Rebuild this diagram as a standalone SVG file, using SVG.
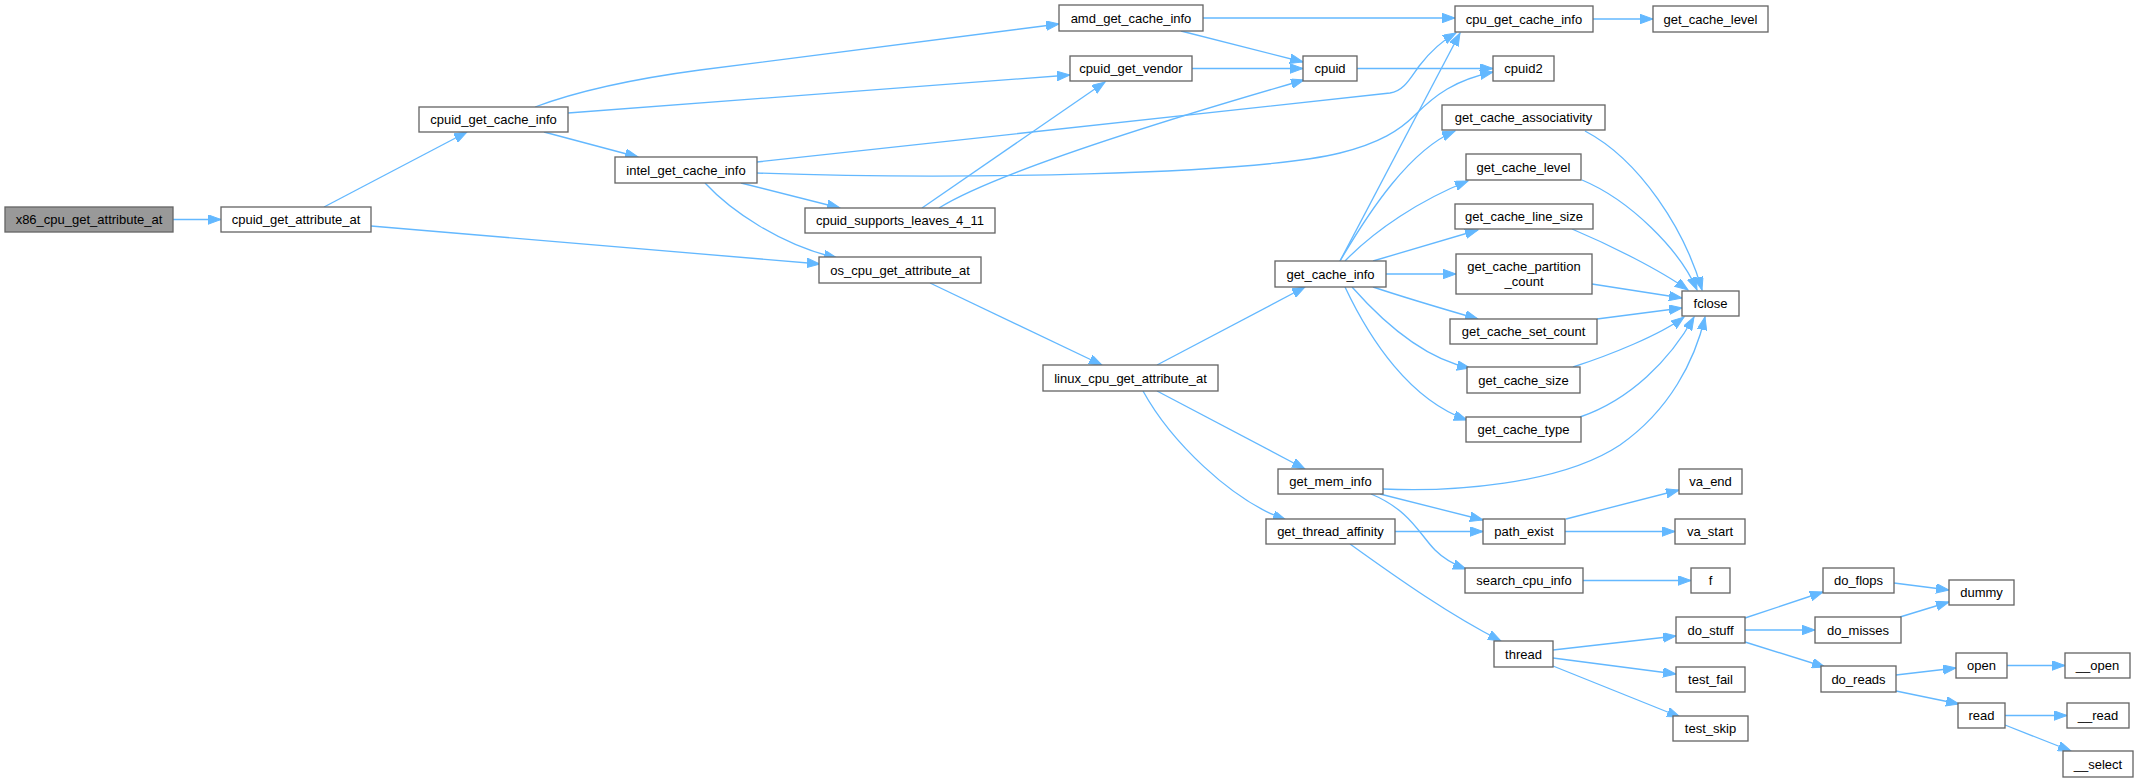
<svg xmlns="http://www.w3.org/2000/svg" width="2139" height="783" viewBox="0 0 2139 783">
<style>
.n rect{fill:#ffffff;stroke:#666666;stroke-width:1.33}
.root rect{fill:#999999}
.n text{font-family:"Liberation Sans",Helvetica,Arial,sans-serif;font-size:13px;fill:#000000;text-anchor:middle}
.e path{fill:none;stroke:#63b8ff;stroke-width:1.33;marker-end:url(#ah)}
</style>
<defs>
<marker id="ah" markerUnits="userSpaceOnUse" markerWidth="14" markerHeight="10" refX="13" refY="4.75" orient="auto">
<path d="M0,0 L13,4.75 L0,9.5 z" fill="#63b8ff" stroke="#63b8ff" stroke-width="1"/>
</marker>
</defs>
<rect width="2139" height="783" fill="#ffffff"/>
<g id="edges" class="e">
<path d="M173,219.5 L221,219.5"/>
<path d="M324,207 L467,132"/>
<path d="M371,226 L820,264"/>
<path d="M535,107 C575,92 625,80 700,70 L1059,24"/>
<path d="M568,113 L1070,75"/>
<path d="M544,132 L638,157"/>
<path d="M1203,18 L1455,18"/>
<path d="M1181,31 L1303,62"/>
<path d="M1192,68.5 L1303,68.5"/>
<path d="M1357,68.5 L1493,68.5"/>
<path d="M757,162 L1390,93 C1405,91 1412,75 1420,65 C1430,52 1440,42 1456,33"/>
<path d="M757,173 C950,180 1250,175 1340,153 C1380,143 1400,130 1415,115 C1435,95 1455,80 1493,72"/>
<path d="M741,183 L840,208"/>
<path d="M705,183 C730,210 780,245 837,258"/>
<path d="M922,208 L1105,82"/>
<path d="M939,208 C1000,170 1200,110 1304,80"/>
<path d="M1593,19 L1653,19"/>
<path d="M930,283 L1102,365"/>
<path d="M1157,365 L1305,287"/>
<path d="M1157,391 L1305,469"/>
<path d="M1143,391 C1170,440 1230,500 1286,520"/>
<path d="M1340,261 L1460,33"/>
<path d="M1340,261 C1370,210 1410,150 1455,131"/>
<path d="M1345,261 C1375,230 1420,200 1468,181"/>
<path d="M1373,261 L1478,230"/>
<path d="M1386,274 L1456,274"/>
<path d="M1373,287 C1400,296 1440,308 1478,319"/>
<path d="M1352,287 C1390,330 1430,360 1470,368"/>
<path d="M1345,287 C1370,340 1410,400 1467,420"/>
<path d="M1585,131 C1640,160 1685,230 1702,290"/>
<path d="M1582,180 C1630,200 1680,250 1697,290"/>
<path d="M1572,229 C1610,245 1660,270 1688,290"/>
<path d="M1592,284 L1682,298"/>
<path d="M1597,319 L1682,308"/>
<path d="M1573,367 C1610,355 1660,335 1684,317"/>
<path d="M1580,417 C1630,400 1670,360 1694,317"/>
<path d="M1383,489 C1450,492 1560,485 1620,445 C1670,410 1695,360 1705,317"/>
<path d="M1380,494 L1483,520"/>
<path d="M1371,494 C1410,510 1420,535 1435,550 C1445,560 1455,565 1466,569"/>
<path d="M1395,531.5 L1483,531.5"/>
<path d="M1350,544 C1400,580 1450,615 1501,641"/>
<path d="M1566,519 L1679,490"/>
<path d="M1565,531.5 L1675,531.5"/>
<path d="M1583,580.5 L1691,580.5"/>
<path d="M1553,650 L1676,636"/>
<path d="M1553,658 L1676,674"/>
<path d="M1553,666 L1680,717"/>
<path d="M1745,618 L1823,592"/>
<path d="M1745,630 L1815,630"/>
<path d="M1745,642 L1825,667"/>
<path d="M1894,583 L1949,590"/>
<path d="M1900,617 L1949,602"/>
<path d="M1896,675 L1956,668"/>
<path d="M1896,691 L1959,704"/>
<path d="M2007,665.5 L2065,665.5"/>
<path d="M2005,715.5 L2067,715.5"/>
<path d="M2005,725 L2071,751"/>
</g>
<g id="n_x86_cpu_get_attribute_at" class="n root"><rect x="5" y="207" width="168" height="25"/><text x="89" y="224.1">x86_cpu_get_attribute_at</text></g>
<g id="n_cpuid_get_attribute_at" class="n"><rect x="221" y="207" width="150" height="25"/><text x="296" y="224.1">cpuid_get_attribute_at</text></g>
<g id="n_cpuid_get_cache_info" class="n"><rect x="419" y="107" width="149" height="25"/><text x="493.5" y="124.1">cpuid_get_cache_info</text></g>
<g id="n_intel_get_cache_info" class="n"><rect x="615" y="157" width="142" height="26"/><text x="686" y="174.6">intel_get_cache_info</text></g>
<g id="n_amd_get_cache_info" class="n"><rect x="1059" y="5" width="144" height="26"/><text x="1131" y="22.6">amd_get_cache_info</text></g>
<g id="n_cpuid_get_vendor" class="n"><rect x="1070" y="56" width="122" height="25"/><text x="1131" y="73.1">cpuid_get_vendor</text></g>
<g id="n_cpuid" class="n"><rect x="1303" y="56" width="54" height="25"/><text x="1330" y="73.1">cpuid</text></g>
<g id="n_cpuid_supports_leaves_4_11" class="n"><rect x="805" y="208" width="190" height="25"/><text x="900" y="225.1">cpuid_supports_leaves_4_11</text></g>
<g id="n_os_cpu_get_attribute_at" class="n"><rect x="819" y="257" width="162" height="26"/><text x="900" y="274.6">os_cpu_get_attribute_at</text></g>
<g id="n_linux_cpu_get_attribute_at" class="n"><rect x="1043" y="365" width="175" height="26"/><text x="1130.5" y="382.6">linux_cpu_get_attribute_at</text></g>
<g id="n_cpu_get_cache_info" class="n"><rect x="1455" y="6" width="138" height="26"/><text x="1524" y="23.6">cpu_get_cache_info</text></g>
<g id="n_get_cache_level_top" class="n"><rect x="1653" y="6" width="115" height="26"/><text x="1710.5" y="23.6">get_cache_level</text></g>
<g id="n_cpuid2" class="n"><rect x="1493" y="56" width="61" height="25"/><text x="1523.5" y="73.1">cpuid2</text></g>
<g id="n_get_cache_info" class="n"><rect x="1275" y="261" width="111" height="26"/><text x="1330.5" y="278.6">get_cache_info</text></g>
<g id="n_get_cache_associativity" class="n"><rect x="1442" y="105" width="163" height="25"/><text x="1523.5" y="122.1">get_cache_associativity</text></g>
<g id="n_get_cache_level" class="n"><rect x="1466" y="154" width="115" height="26"/><text x="1523.5" y="171.6">get_cache_level</text></g>
<g id="n_get_cache_line_size" class="n"><rect x="1455" y="204" width="138" height="25"/><text x="1524" y="221.1">get_cache_line_size</text></g>
<g id="n_get_cache_partition_count" class="n"><rect x="1456" y="254" width="136" height="40"/><text x="1524" y="270.6">get_cache_partition</text><text x="1524" y="285.6">_count</text></g>
<g id="n_get_cache_set_count" class="n"><rect x="1450" y="319" width="147" height="25"/><text x="1523.5" y="336.1">get_cache_set_count</text></g>
<g id="n_get_cache_size" class="n"><rect x="1467" y="367" width="113" height="26"/><text x="1523.5" y="384.6">get_cache_size</text></g>
<g id="n_get_cache_type" class="n"><rect x="1466" y="417" width="115" height="25"/><text x="1523.5" y="434.1">get_cache_type</text></g>
<g id="n_fclose" class="n"><rect x="1682" y="291" width="57" height="25"/><text x="1710.5" y="308.1">fclose</text></g>
<g id="n_get_mem_info" class="n"><rect x="1278" y="469" width="105" height="25"/><text x="1330.5" y="486.1">get_mem_info</text></g>
<g id="n_get_thread_affinity" class="n"><rect x="1266" y="519" width="129" height="25"/><text x="1330.5" y="536.1">get_thread_affinity</text></g>
<g id="n_path_exist" class="n"><rect x="1483" y="519" width="82" height="25"/><text x="1524" y="536.1">path_exist</text></g>
<g id="n_va_end" class="n"><rect x="1679" y="469" width="63" height="25"/><text x="1710.5" y="486.1">va_end</text></g>
<g id="n_va_start" class="n"><rect x="1675" y="519" width="70" height="25"/><text x="1710" y="536.1">va_start</text></g>
<g id="n_search_cpu_info" class="n"><rect x="1465" y="568" width="118" height="25"/><text x="1524" y="585.1">search_cpu_info</text></g>
<g id="n_f" class="n"><rect x="1691" y="568" width="39" height="25"/><text x="1710.5" y="585.1">f</text></g>
<g id="n_thread" class="n"><rect x="1494" y="641" width="59" height="26"/><text x="1523.5" y="658.6">thread</text></g>
<g id="n_do_stuff" class="n"><rect x="1676" y="617" width="69" height="26"/><text x="1710.5" y="634.6">do_stuff</text></g>
<g id="n_test_fail" class="n"><rect x="1676" y="667" width="69" height="25"/><text x="1710.5" y="684.1">test_fail</text></g>
<g id="n_test_skip" class="n"><rect x="1673" y="716" width="75" height="25"/><text x="1710.5" y="733.1">test_skip</text></g>
<g id="n_do_flops" class="n"><rect x="1823" y="568" width="71" height="25"/><text x="1858.5" y="585.1">do_flops</text></g>
<g id="n_dummy" class="n"><rect x="1949" y="580" width="65" height="25"/><text x="1981.5" y="597.1">dummy</text></g>
<g id="n_do_misses" class="n"><rect x="1815" y="617" width="86" height="26"/><text x="1858" y="634.6">do_misses</text></g>
<g id="n_do_reads" class="n"><rect x="1821" y="666" width="75" height="26"/><text x="1858.5" y="683.6">do_reads</text></g>
<g id="n_open" class="n"><rect x="1956" y="653" width="51" height="25"/><text x="1981.5" y="670.1">open</text></g>
<g id="n___open" class="n"><rect x="2065" y="653" width="65" height="25"/><text x="2097.5" y="670.1">__open</text></g>
<g id="n_read" class="n"><rect x="1958" y="703" width="47" height="25"/><text x="1981.5" y="720.1">read</text></g>
<g id="n___read" class="n"><rect x="2067" y="703" width="62" height="25"/><text x="2098" y="720.1">__read</text></g>
<g id="n___select" class="n"><rect x="2063" y="751" width="70" height="26"/><text x="2098" y="768.6">__select</text></g>
</svg>
